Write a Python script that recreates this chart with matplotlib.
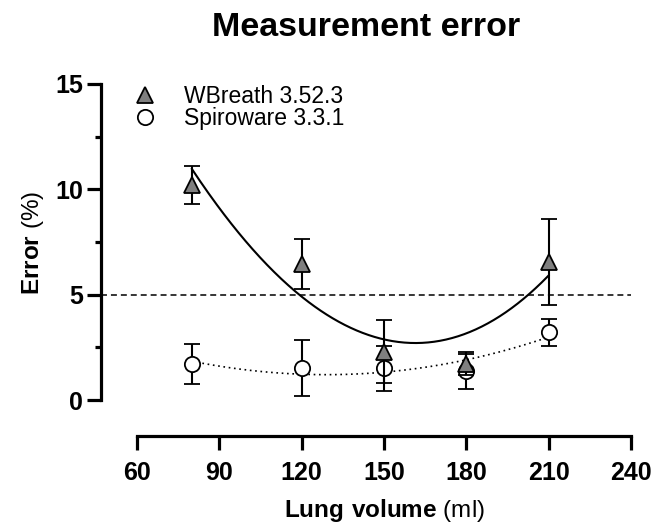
import numpy as np
import matplotlib
matplotlib.use("Agg")
import matplotlib.pyplot as plt
from matplotlib.lines import Line2D

plt.rcParams['font.family'] = ['Liberation Sans', 'DejaVu Sans']
plt.rcParams['mathtext.fontset'] = 'custom'
plt.rcParams['mathtext.rm'] = 'Liberation Sans'
plt.rcParams['mathtext.bf'] = 'Liberation Sans:bold'

# ---- data ----
volumes = [80, 120, 150, 180, 210]
wbreath_mean = [10.2, 6.45, 2.3, 1.7, 6.55]
wbreath_err = [0.9, 1.17, 1.48, 0.5, 2.05]
spiro_mean = [1.72, 1.5, 1.5, 1.4, 3.22]
spiro_err = [0.96, 1.33, 1.08, 0.9, 0.64]

# points read along the fitted curves of the reference
wb_fit_x = [80, 93.9, 106, 114.6, 117.6, 148.6, 160.7, 178.9, 197.1, 202.6, 209.3]
wb_fit_y = [10.76, 8.70, 6.96, 5.30, 5.0, 2.77, 2.64, 3.32, 4.51, 5.0, 5.70]
sp_fit_x = [83, 93.3, 109.7, 123, 133.4, 137.6, 162.5, 166.8, 191.7, 197.8, 207.5]
sp_fit_y = [1.77, 1.55, 1.27, 1.22, 1.19, 1.23, 1.50, 1.66, 2.21, 2.45, 2.93]

threshold = 5
xticks = [60, 90, 120, 150, 180, 210, 240]
yticks = [0, 5, 10, 15]
labels = ["WBreath 3.52.3", "Spiroware 3.3.1"]

fig = plt.figure(figsize=(6.67, 5.24), dpi=100)
W, H = 667, 524
ax = fig.add_axes([137 / W, (H - 400) / H, 494 / W, 316 / H])

ax.set_xlim(60, 240)
ax.set_ylim(0, 15)

off_px = 36
off_pt = off_px * 72 / 100
for s in ['top', 'right']:
    ax.spines[s].set_visible(False)
ax.spines['left'].set_position(('outward', off_pt))
ax.spines['bottom'].set_position(('outward', off_pt))
ax.spines['left'].set_bounds(0, 15)
ax.spines['bottom'].set_bounds(60, 240)
for s in ['left', 'bottom']:
    ax.spines[s].set_linewidth(2.3)

ax.set_xticks(xticks)
ax.set_yticks(yticks)
ax.set_yticks([2.5, 7.5, 12.5], minor=True)
ax.tick_params(axis='both', which='major', length=10, width=2.3, labelsize=18, pad=3)
ax.tick_params(axis='x', which='major', pad=8)
ax.tick_params(axis='y', which='minor', length=4.5, width=2.3)
for lab in ax.get_xticklabels() + ax.get_yticklabels():
    lab.set_fontweight('bold')

# threshold line spanning from y-axis spine to end of x range
ax.hlines(threshold, -off_px / 494, 1.0, transform=ax.get_yaxis_transform(),
          colors='black', linewidth=1.1, linestyles=(0, (3.9, 2.6)), clip_on=False, zorder=1)

# fitted curves
cw = np.polyfit(wb_fit_x, wb_fit_y, 3)
cs = np.polyfit(sp_fit_x, sp_fit_y, 3)
xs = np.linspace(volumes[0], volumes[-1], 300)
ax.plot(xs, np.polyval(cw, xs), color='black', lw=1.5, zorder=2)
ax.plot(xs, np.polyval(cs, xs), color='black', lw=1.2, ls=(0, (1, 2.2)), zorder=2)

# spiroware (drawn below)
ax.errorbar(volumes, spiro_mean, yerr=spiro_err, fmt='o', ms=11, mfc='white', mec='black',
            mew=1.3, ecolor='black', elinewidth=1.5, capsize=5.5, capthick=1.5, zorder=3)
# wbreath
ax.errorbar(volumes, wbreath_mean, yerr=wbreath_err, fmt='^', ms=11, mfc='#7f7f7f', mec='black',
            mew=1.3, ecolor='black', elinewidth=1.5, capsize=5.5, capthick=1.5, zorder=4)

h1 = Line2D([], [], marker='^', ls='none', ms=11, mfc='#7f7f7f', mec='black', mew=1.3)
h2 = Line2D([], [], marker='o', ls='none', ms=11, mfc='white', mec='black', mew=1.3)
ax.legend([h1, h2], labels, loc='upper left', bbox_to_anchor=(-0.007, 0.997), frameon=False,
          fontsize=16.5, handlelength=1.0, handletextpad=1.22, labelspacing=-0.02,
          borderpad=0, borderaxespad=0)

fig.text(366 / W, 1 - 28 / H, "Measurement error", fontsize=24.5, fontweight='bold',
         ha='center', va='center')
fig.text(384 / W, 1 - 510 / H, r"$\mathbf{Lung\ volume}$ (ml)", fontsize=17.5,
         ha='center', va='center')
fig.text(33 / W, 1 - 243 / H, r"$\mathbf{Error}$ (%)", fontsize=17.5, rotation=90,
         ha='center', va='center')

fig.savefig("out.png", dpi=100)
